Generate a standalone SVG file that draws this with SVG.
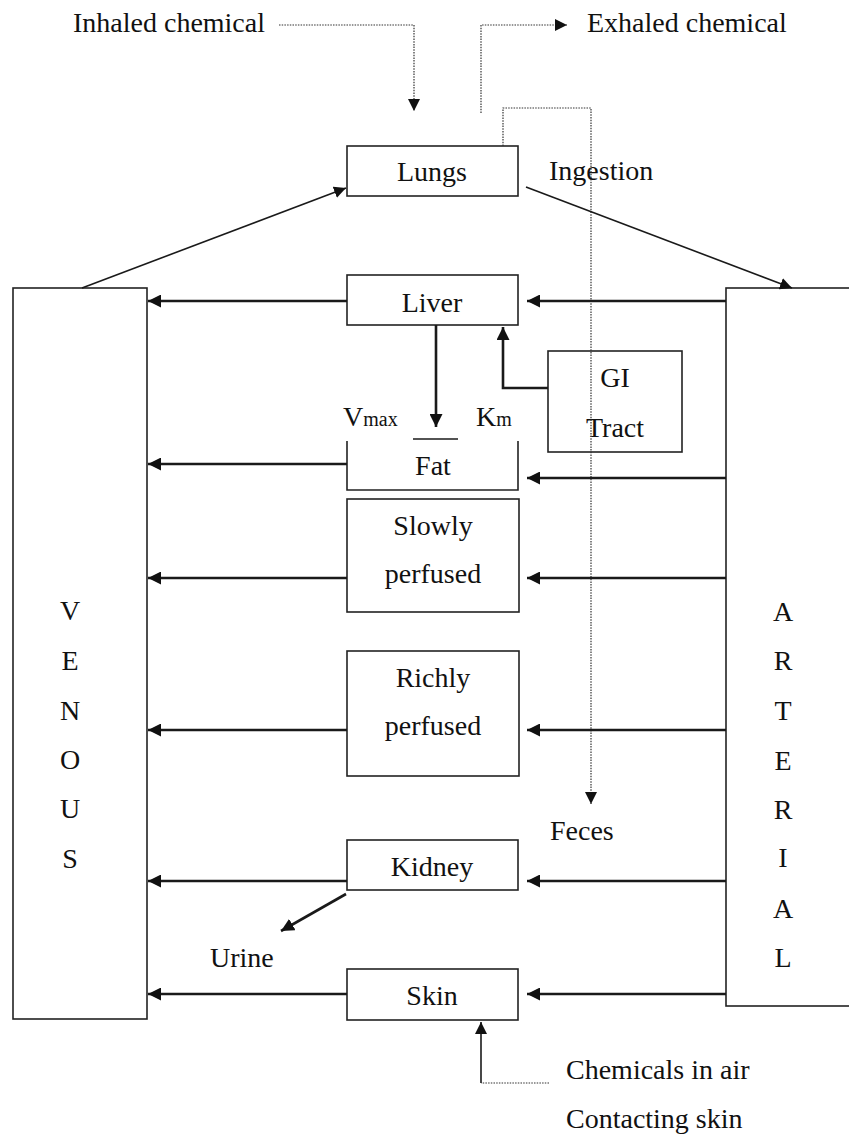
<svg xmlns="http://www.w3.org/2000/svg" width="849" height="1135" viewBox="0 0 849 1135">
<style>
text{font-family:"Liberation Serif","Times New Roman",serif;font-size:28px;fill:#111}
.box{fill:#fff;stroke:#222;stroke-width:1.6}
.c{text-anchor:middle}
.arr{fill:none;stroke:#1a1a1a;stroke-width:2.6}
.thin{fill:none;stroke:#1a1a1a;stroke-width:1.6}
.dot{fill:none;stroke:#333;stroke-width:1.2;stroke-dasharray:1.5 1.2}
.sub{font-size:20px}
</style>
<defs>
<marker id="ah" markerUnits="userSpaceOnUse" markerWidth="14" markerHeight="13" refX="13" refY="6.5" orient="auto">
<path d="M0,0 L13,6.5 L0,13 Z" fill="#111"/>
</marker>
<marker id="ahs" markerUnits="userSpaceOnUse" markerWidth="13" markerHeight="12" refX="12" refY="6" orient="auto">
<path d="M0,0 L12,6 L0,12 Z" fill="#111"/>
</marker>
</defs>

<g id="venous">
<rect class="box" x="13" y="288" width="134" height="731"/>
<text class="c" x="70" y="620">V</text>
<text class="c" x="70" y="670">E</text>
<text class="c" x="70" y="720">N</text>
<text class="c" x="70" y="769">O</text>
<text class="c" x="70" y="818">U</text>
<text class="c" x="70" y="868">S</text>
</g>
<g id="arterial">
<rect class="box" x="726" y="288" width="130" height="718"/>
<text class="c" x="783" y="621">A</text>
<text class="c" x="783" y="670">R</text>
<text class="c" x="783" y="720">T</text>
<text class="c" x="783" y="770">E</text>
<text class="c" x="783" y="819">R</text>
<text class="c" x="783" y="867">I</text>
<text class="c" x="783" y="918">A</text>
<text class="c" x="783" y="967">L</text>
</g>
<g id="lungs">
<rect class="box" x="347" y="146" width="171" height="50"/>
<text class="c" x="432" y="181">Lungs</text>
</g>
<g id="liver">
<rect class="box" x="347" y="275" width="171" height="50"/>
<text class="c" x="432" y="312">Liver</text>
</g>
<g id="gi">
<rect class="box" x="548" y="351" width="134" height="101"/>
<text class="c" x="615" y="387">GI</text>
<text class="c" x="615" y="437">Tract</text>
</g>
<g id="fat">
<path class="box" d="M347,441 V490 H518 V441" style="fill:none"/>
<line class="thin" x1="413" y1="439" x2="458" y2="439"/>
<text class="c" x="433" y="475">Fat</text>
<text x="343" y="426">V<tspan class="sub">max</tspan></text>
<text x="476" y="426">K<tspan class="sub">m</tspan></text>
</g>
<g id="slowly">
<rect class="box" x="347" y="499" width="172" height="113"/>
<text class="c" x="433" y="535">Slowly</text>
<text class="c" x="433" y="583">perfused</text>
</g>
<g id="richly">
<rect class="box" x="347" y="651" width="172" height="125"/>
<text class="c" x="433" y="687">Richly</text>
<text class="c" x="433" y="735">perfused</text>
</g>
<g id="kidney">
<rect class="box" x="347" y="840" width="171" height="50"/>
<text class="c" x="432" y="876">Kidney</text>
</g>
<g id="skin">
<rect class="box" x="347" y="969" width="171" height="51"/>
<text class="c" x="432" y="1005">Skin</text>
</g>
<g id="labels">
<text x="73" y="32">Inhaled chemical</text>
<text x="587" y="32">Exhaled chemical</text>
<text x="549" y="180">Ingestion</text>
<text x="550" y="840">Feces</text>
<text x="210" y="967">Urine</text>
<text x="566" y="1079">Chemicals in air</text>
<text x="566" y="1128">Contacting skin</text>
</g>

<g id="connectors">
<path class="dot" d="M279,25 H414 V111" marker-end="url(#ahs)"/>
<path class="dot" d="M481,113 V25 H567" marker-end="url(#ahs)"/>
<path class="dot" d="M503,146 V108 H591 V804" marker-end="url(#ahs)"/>
<line class="thin" x1="82" y1="288" x2="346" y2="188" marker-end="url(#ahs)"/>
<line class="thin" x1="526" y1="187" x2="792" y2="288" marker-end="url(#ahs)"/>

<line class="arr" x1="347" y1="301" x2="148" y2="301" marker-end="url(#ah)"/>
<line class="arr" x1="726" y1="301" x2="527" y2="301" marker-end="url(#ah)"/>
<line class="arr" x1="436" y1="325" x2="436" y2="427" marker-end="url(#ah)"/>
<path class="arr" d="M548,388 H503 V327" marker-end="url(#ah)"/>

<line class="arr" x1="347" y1="464" x2="148" y2="464" marker-end="url(#ah)"/>
<line class="arr" x1="726" y1="478" x2="527" y2="478" marker-end="url(#ah)"/>
<line class="arr" x1="347" y1="578" x2="148" y2="578" marker-end="url(#ah)"/>
<line class="arr" x1="726" y1="578" x2="527" y2="578" marker-end="url(#ah)"/>
<line class="arr" x1="347" y1="730" x2="148" y2="730" marker-end="url(#ah)"/>
<line class="arr" x1="726" y1="730" x2="527" y2="730" marker-end="url(#ah)"/>
<line class="arr" x1="347" y1="881" x2="148" y2="881" marker-end="url(#ah)"/>
<line class="arr" x1="726" y1="881" x2="527" y2="881" marker-end="url(#ah)"/>
<line class="arr" x1="346" y1="894" x2="281" y2="931" marker-end="url(#ah)"/>
<line class="arr" x1="347" y1="994" x2="148" y2="994" marker-end="url(#ah)"/>
<line class="arr" x1="726" y1="994" x2="527" y2="994" marker-end="url(#ah)"/>
<path class="dot" d="M549,1083 H481"/>
<line class="thin" x1="481" y1="1083" x2="481" y2="1022" marker-end="url(#ahs)"/>
</g>
</svg>
